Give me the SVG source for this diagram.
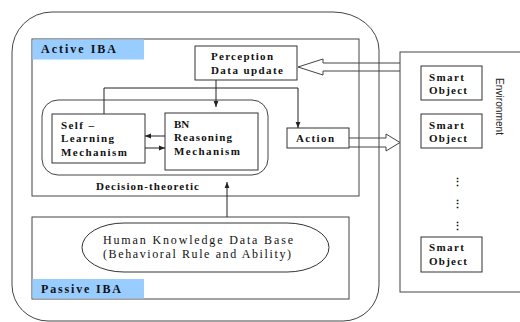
<svg xmlns="http://www.w3.org/2000/svg" width="520" height="322" viewBox="0 0 520 322">
<defs>
<marker id="ah" viewBox="0 0 10 10" refX="10" refY="5" markerWidth="6" markerHeight="6" orient="auto" markerUnits="userSpaceOnUse">
<path d="M0,1 L10,5 L0,9 Z" fill="#222"/>
</marker>
<style>
.box{fill:#fff;stroke:#333;stroke-width:1}
.frame{fill:none;stroke:#444;stroke-width:1}
.lbl{fill:#99ccff}
.b{font-family:"Liberation Serif","Times New Roman",serif;font-weight:bold;font-size:11px;fill:#111}
.bl{font-family:"Liberation Serif","Times New Roman",serif;font-weight:bold;font-size:12px;fill:#111}
.r{font-family:"Liberation Serif","Times New Roman",serif;font-size:12px;fill:#111}
.s{font-family:"Liberation Sans","DejaVu Sans",sans-serif;font-size:10px;fill:#222}
.con{fill:none;stroke:#222;stroke-width:1}
.hollow{fill:none;stroke:#444;stroke-width:1}
</style>
</defs>
<rect width="520" height="322" fill="#fff"/>
<g id="outer">
<path class="frame" d="M52 12 H333 A46 38 0 0 1 379 50 V285 A36 36 0 0 1 343 321 H48 A36 36 0 0 1 12 285 V52 A40 40 0 0 1 52 12 Z" stroke="#777"/>
</g>
<g id="active-iba">
<rect class="frame" x="32" y="39" width="327" height="157"/>
<rect class="lbl" x="32.5" y="39.5" width="111.5" height="20"/>
<text class="bl" x="41" y="53" textLength="75" lengthAdjust="spacing">Active IBA</text>
</g>
<g id="passive-iba">
<rect class="frame" x="32" y="217" width="317" height="82"/>
<rect class="lbl" x="32.5" y="279" width="111.5" height="19.5"/>
<text class="bl" x="41" y="293" textLength="80" lengthAdjust="spacing">Passive IBA</text>
</g>
<g id="decision-theoretic">
<rect class="frame" x="42" y="100" width="226" height="75" rx="16" ry="16" stroke="#666"/>
<text class="b" x="96" y="190" textLength="103" lengthAdjust="spacing">Decision-theoretic</text>
</g>
<g id="perception">
<rect class="box" x="195" y="46" width="102" height="34"/>
<text class="b" x="211" y="60" textLength="62" lengthAdjust="spacing">Perception</text>
<text class="b" x="211" y="74" textLength="72" lengthAdjust="spacing">Data update</text>
</g>
<g id="self-learning">
<rect class="box" x="52" y="114" width="93" height="49"/>
<text class="b" x="61" y="129" textLength="33" lengthAdjust="spacing">Self –</text>
<text class="b" x="61" y="142" textLength="53" lengthAdjust="spacing">Learning</text>
<text class="b" x="61" y="156" textLength="66" lengthAdjust="spacing">Mechanism</text>
</g>
<g id="bn-reasoning">
<rect class="box" x="165" y="113" width="93" height="57"/>
<text class="b" x="174" y="128">BN</text>
<text class="b" x="174" y="141" textLength="58" lengthAdjust="spacing">Reasoning</text>
<text class="b" x="174" y="155" textLength="66" lengthAdjust="spacing">Mechanism</text>
</g>
<g id="action">
<rect class="box" x="287" y="128" width="62" height="20"/>
<text class="b" x="296" y="142" textLength="38" lengthAdjust="spacing">Action</text>
</g>
<g id="human-knowledge">
<rect class="box" x="82" y="223" width="247" height="49" rx="42" ry="24.5" stroke="#444"/>
<text class="r" x="103" y="244" textLength="190" lengthAdjust="spacing">Human Knowledge Data Base</text>
<text class="r" x="103" y="258" textLength="188" lengthAdjust="spacing">(Behavioral Rule and Ability)</text>
</g>
<g id="environment">
<rect class="frame" x="400" y="52" width="130" height="240" stroke="#222"/>
<text class="s" transform="translate(496,78) rotate(90)" x="0" y="0" textLength="57" lengthAdjust="spacingAndGlyphs">Environment</text>
<text class="b" x="457" y="186" text-anchor="middle">⋮</text>
<text class="b" x="457" y="208" text-anchor="middle">⋮</text>
<text class="b" x="457" y="230" text-anchor="middle">⋮</text>
</g>
<g id="smart-object-1">
<rect class="box" x="421" y="66" width="61" height="34"/>
<text class="b" x="429" y="81" textLength="35" lengthAdjust="spacing">Smart</text>
<text class="b" x="429" y="94" textLength="38" lengthAdjust="spacing">Object</text>
</g>
<g id="smart-object-2">
<rect class="box" x="421" y="114" width="61" height="34"/>
<text class="b" x="429" y="129" textLength="35" lengthAdjust="spacing">Smart</text>
<text class="b" x="429" y="142" textLength="38" lengthAdjust="spacing">Object</text>
</g>
<g id="smart-object-3">
<rect class="box" x="421" y="237" width="61" height="35"/>
<text class="b" x="429" y="251" textLength="35" lengthAdjust="spacing">Smart</text>
<text class="b" x="429" y="265" textLength="38" lengthAdjust="spacing">Object</text>
</g>
<g id="connectors">
<path class="con" d="M216 80 V107" marker-end="url(#ah)"/>
<path class="con" d="M104 114 V88 H298 V128" marker-end="url(#ah)"/>
<path class="con" d="M165 136 H145" marker-end="url(#ah)"/>
<path class="con" d="M145 148 H165" marker-end="url(#ah)"/>
<path class="con" d="M227 217 V182" marker-end="url(#ah)"/>
<path class="hollow" d="M400 63 H323 V59 L298 67 L323 75 V71 H400"/>
<path class="hollow" d="M349 138 H386 V134 L400 142.5 L386 151 V147 H349"/>
</g>
</svg>
